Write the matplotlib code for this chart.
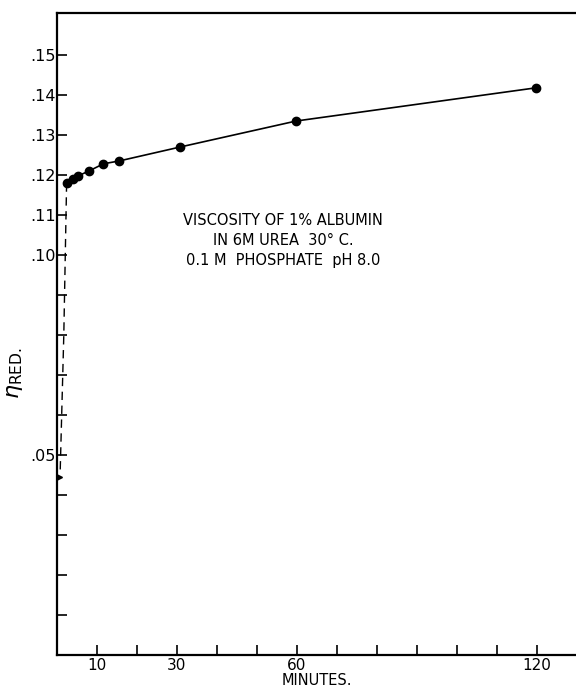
import numpy as np
import matplotlib.pyplot as plt

# readings
minutes = [2.4, 4.1, 5.3, 8.0, 11.6, 15.5, 30.8, 59.8, 119.8]
eta_red = [0.1179, 0.1190, 0.1198, 0.1210, 0.1228, 0.1235, 0.1270, 0.1335, 0.1418]

dash_x = [2.4, 1.7, 0.8]
dash_y = [0.1179, 0.080, 0.046]
start_x = [0.3]
start_y = [0.0445]

x_ticks = [10, 20, 30, 40, 50, 60, 70, 80, 90, 100, 110, 120]
x_labels = ["10", "", "30", "", "", "60", "", "", "", "", "", "120"]
y_ticks = [0.01, 0.02, 0.03, 0.04, 0.05, 0.06, 0.07, 0.08, 0.09, 0.10,
           0.11, 0.12, 0.13, 0.14, 0.15]
y_labels = ["", "", "", "", ".05", "", "", "", "", ".10",
            ".11", ".12", ".13", ".14", ".15"]

note = "VISCOSITY OF 1% ALBUMIN\nIN 6M UREA  30° C.\n0.1 M  PHOSPHATE  pH 8.0"

fig = plt.figure(figsize=(5.76, 6.88), dpi=100)
ax = fig.add_axes([57 / 576, 33 / 688, 1 - 57 / 576, 642 / 688])

ax.plot(minutes, eta_red, color='black', lw=1.2, marker='o', ms=6)
ax.plot(dash_x, dash_y, color='black', lw=1.0, ls=(0, (6, 4)))
ax.plot(start_x, start_y, color='black', marker='>', ms=6, ls='none')

ax.set_xlim(0, 129.75)
ax.set_ylim(0, 0.1605)

ax.set_xticks(x_ticks)
ax.set_xticklabels(x_labels)
ax.set_yticks(y_ticks)
ax.set_yticklabels(y_labels)
ax.tick_params(direction='in', length=7, width=1.2, labelsize=11)
ax.tick_params(axis='y', pad=1, labelsize=11.5)
ax.tick_params(axis='x', pad=2)

for side in ['left', 'bottom', 'top']:
    ax.spines[side].set_linewidth(1.6)
ax.spines['right'].set_visible(False)

ax.set_xlabel("MINUTES.", fontsize=10.5, labelpad=0)
ax.set_ylabel(r'$\eta_{\mathrm{RED.}}$', fontsize=16)
ax.yaxis.set_label_coords(-0.062, 0.44)

ax.text(0.436, 0.646, note, transform=ax.transAxes, ha='center', va='center',
        fontsize=10.5, linespacing=1.4)

fig.savefig("out.png", dpi=100)
